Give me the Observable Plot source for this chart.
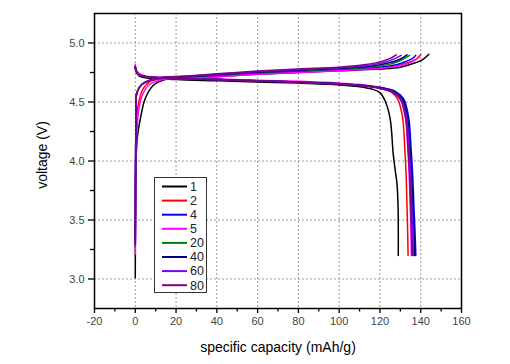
<!DOCTYPE html>
<html>
<head>
<meta charset="utf-8">
<script src="https://cdn.jsdelivr.net/npm/d3@7"></script>
<script src="https://cdn.jsdelivr.net/npm/@observablehq/plot@0.6"></script>
<style>
  html, body { margin: 0; padding: 0; background: #fff; }
  #chart { position: relative; width: 510px; height: 364px; }
  svg { font-family: "Liberation Sans", Arial, sans-serif; }
</style>
</head>
<body>
<div id="chart"></div>
<script>
// ---- data ----
const cycles = ["1", "2", "4", "5", "20", "40", "60", "80"];
const colors = ["#000000", "#ff0000", "#0000ff", "#ff00ff", "#008000", "#000080", "#8000ff", "#800080"];
const xTicks = [-20, 0, 20, 40, 60, 80, 100, 120, 140, 160];
const yTicks = [3.0, 3.5, 4.0, 4.5, 5.0];

// charge curves [capacity mAh/g, voltage V]
const charge1 = [[0,3.01],[0.1,3.6],[0.3,3.97],[1,4.2],[2.5,4.36],[4.9,4.53],[8.8,4.64],[14.7,4.69],[25,4.705],[40,4.715],[60,4.735],[80,4.75],[100,4.765],[120,4.78],[130,4.795],[137,4.83],[141,4.86],[144,4.905]];
const charge2 = [[0,3.3],[0.2,4.0],[0.5,4.3],[1.5,4.48],[3.5,4.6],[7,4.67],[13,4.695],[25,4.705],[40,4.72],[60,4.74],[80,4.755],[100,4.77],[120,4.79],[128,4.805],[134,4.835],[138,4.865],[140,4.9]];
const charge4 = [[0,3.3],[0.2,4.1],[0.4,4.4],[0.8,4.58],[3.3,4.65],[10.6,4.70],[25,4.71],[40,4.725],[60,4.745],[80,4.76],[100,4.775],[120,4.795],[128,4.815],[133,4.845],[136,4.87],[137.5,4.895]];
const charge5 = [[0,3.21],[0.3,3.8],[0.8,4.25],[1.8,4.45],[3.3,4.55],[6.4,4.64],[13.7,4.69],[25,4.70],[40,4.715],[60,4.735],[80,4.75],[100,4.765],[120,4.785],[129,4.805],[135,4.835],[139,4.875]];
const charge20 = [[0,3.3],[0.2,4.1],[0.4,4.4],[0.8,4.58],[3.3,4.65],[10.6,4.70],[25,4.712],[40,4.728],[60,4.75],[80,4.765],[100,4.78],[118,4.80],[126,4.825],[131,4.86],[134.5,4.895]];
const charge40 = [[0,3.3],[0.2,4.1],[0.4,4.4],[0.8,4.58],[3.3,4.65],[10.6,4.70],[25,4.715],[40,4.73],[60,4.752],[80,4.768],[100,4.785],[116,4.805],[124,4.83],[129.5,4.86],[133.3,4.9]];
const charge60 = [[0,3.3],[0.2,4.1],[0.4,4.4],[0.8,4.58],[3.3,4.65],[10.6,4.70],[25,4.718],[40,4.735],[60,4.758],[80,4.775],[100,4.79],[114,4.81],[122,4.835],[127,4.865],[130.4,4.895]];
const charge80 = [[0,3.28],[0.2,4.1],[0.4,4.4],[0.8,4.58],[3.3,4.65],[10.6,4.705],[25,4.72],[40,4.74],[60,4.762],[80,4.78],[100,4.795],[112,4.815],[120,4.84],[125,4.87],[128,4.9]];

// discharge curves [capacity mAh/g, voltage V]
const discharge1 = [[0,4.79],[0.5,4.75],[2,4.72],[5,4.705],[20,4.69],[40,4.68],[60,4.67],[80,4.66],[100,4.645],[110,4.63],[116,4.61],[120,4.58],[122.5,4.51],[125,4.36],[126.5,4.06],[127.5,3.92],[128.4,3.8],[128.9,3.6],[129,3.2]];
const discharge2 = [[0,4.8],[0.5,4.76],[2,4.73],[5,4.715],[20,4.70],[40,4.69],[60,4.68],[80,4.67],[100,4.655],[112,4.64],[119,4.62],[125,4.59],[128.5,4.53],[131,4.38],[132.2,4.1],[132.8,3.9],[133.3,3.6],[133.6,3.4],[133.8,3.2]];
const discharge4 = [[0,4.8],[0.5,4.76],[2,4.73],[5,4.715],[20,4.70],[40,4.69],[60,4.68],[80,4.67],[100,4.655],[112,4.64],[121,4.62],[127.5,4.59],[131.5,4.53],[134,4.38],[135.3,4.1],[136,3.9],[136.7,3.6],[137.2,3.4],[137.6,3.2]];
const discharge5 = [[0,4.82],[0.5,4.77],[2,4.74],[5,4.72],[20,4.705],[40,4.695],[60,4.685],[80,4.675],[100,4.66],[112,4.645],[120,4.625],[126,4.595],[130,4.53],[132.5,4.38],[133.7,4.1],[134.3,3.9],[134.9,3.6],[135.2,3.4],[135.4,3.2]];
const discharge20 = [[0,4.8],[0.5,4.76],[2,4.73],[5,4.715],[20,4.70],[40,4.69],[60,4.68],[80,4.67],[100,4.655],[112,4.64],[120,4.62],[126.5,4.59],[130.5,4.53],[133,4.38],[134.3,4.1],[135,3.9],[135.7,3.6],[136.1,3.4],[136.4,3.2]];
const discharge40 = [[0,4.8],[0.5,4.76],[2,4.73],[5,4.715],[20,4.70],[40,4.69],[60,4.68],[80,4.67],[100,4.655],[112,4.64],[120.5,4.62],[127,4.59],[131,4.53],[133.5,4.38],[134.8,4.1],[135.5,3.9],[136.2,3.6],[136.7,3.4],[137,3.2]];
const discharge60 = [[0,4.8],[0.5,4.76],[2,4.73],[5,4.715],[20,4.70],[40,4.69],[60,4.68],[80,4.668],[100,4.652],[112,4.637],[120,4.617],[126.5,4.585],[130.5,4.52],[133,4.37],[134.3,4.1],[135,3.9],[135.6,3.6],[136,3.4],[136.2,3.2]];
const discharge80 = [[0,4.8],[0.5,4.76],[2,4.73],[5,4.715],[20,4.70],[40,4.69],[60,4.678],[80,4.666],[100,4.65],[112,4.635],[120,4.615],[126,4.585],[130,4.52],[132.5,4.37],[133.8,4.1],[134.5,3.9],[135.1,3.6],[135.5,3.4],[135.8,3.2]];

const chargeSets = [charge1, charge2, charge4, charge5, charge20, charge40, charge60, charge80];
const dischargeSets = [discharge1, discharge2, discharge4, discharge5, discharge20, discharge40, discharge60, discharge80];

// ---- build table ----
const rows = [];
cycles.forEach((c, i) => {
  chargeSets[i].forEach(([x, y]) => rows.push({cycle: c, seg: c + "c", x, y}));
  dischargeSets[i].forEach(([x, y]) => rows.push({cycle: c, seg: c + "d", x, y}));
});

const W = 510, H = 364;
const mL = 94, mR = 49, mT = 13, mB = 56;
const gridStyle = {stroke: "#999", strokeOpacity: 1, strokeWidth: 1, strokeDasharray: "2,2"};

const chart = Plot.plot({
  width: W, height: H,
  marginLeft: mL, marginRight: mR, marginTop: mT, marginBottom: mB,
  style: {fontFamily: "Liberation Sans, Arial, sans-serif", background: "#fff"},
  x: {domain: [-20, 160]},
  y: {domain: [2.75, 5.25]},
  color: {domain: cycles, range: colors},
  marks: [
    Plot.gridX(xTicks.filter(d => d > -20 && d < 160), gridStyle),
    Plot.gridY(yTicks, gridStyle),
    Plot.line(rows, {x: "x", y: "y", z: "seg", stroke: "cycle", strokeWidth: 1.5, curve: "catmull-rom"}),
    Plot.axisX(xTicks, {tickSize: 5, tickPadding: 4, fontSize: 11, fill: "#444", stroke: "#000", strokeWidth: 1.3, tickFormat: d => String(d), label: null}),
    Plot.axisX(d3.range(-10, 160, 20), {tickSize: 3.5, tickFormat: () => "", stroke: "#000", strokeWidth: 1.3, label: null}),
    Plot.axisY(yTicks, {tickSize: 6, tickPadding: 4, fontSize: 11, fill: "#444", stroke: "#000", strokeWidth: 1.3, tickFormat: d3.format(".1f"), label: null}),
    Plot.axisY([3.25, 3.75, 4.25, 4.75], {tickSize: 4, tickFormat: () => "", stroke: "#000", strokeWidth: 1.3, label: null}),
    Plot.frame({stroke: "#000", strokeWidth: 1.5})
  ]
});

document.getElementById("chart").appendChild(chart);

// axis titles and legend inside the SVG
const svg = d3.select(chart);
svg.append("text")
  .attr("x", 278).attr("y", 352)
  .attr("text-anchor", "middle")
  .attr("font-size", 14).attr("fill", "#000")
  .text("specific capacity (mAh/g)");
svg.append("text")
  .attr("transform", "translate(47,155) rotate(-90)")
  .attr("text-anchor", "middle")
  .attr("font-size", 14).attr("fill", "#000")
  .text("voltage (V)");

const lg = svg.append("g").attr("transform", "translate(154,177)");
lg.append("rect").attr("x", 0.5).attr("y", 0.5).attr("width", 52).attr("height", 115)
  .attr("fill", "#fff").attr("stroke", "#333").attr("stroke-width", 1);
cycles.forEach((c, i) => {
  const yy = 9.5 + i * 14.1;
  lg.append("line").attr("x1", 8).attr("x2", 33).attr("y1", yy).attr("y2", yy)
    .attr("stroke", colors[i]).attr("stroke-width", 2);
  lg.append("text").attr("x", 36).attr("y", yy).attr("dy", "0.35em")
    .attr("text-anchor", "start")
    .attr("font-size", 12.5).attr("fill", "#222").text(c);
});
</script>
</body>
</html>
